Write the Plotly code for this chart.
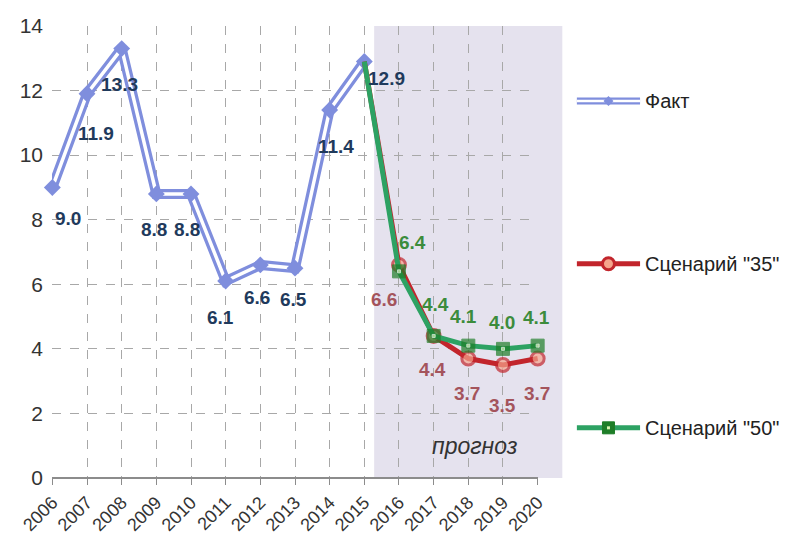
import plotly.graph_objects as go

# ---- data ----
years_fact = [2006, 2007, 2008, 2009, 2010, 2011, 2012, 2013, 2014, 2015]
fact = [9.0, 11.9, 13.3, 8.8, 8.8, 6.1, 6.6, 6.5, 11.4, 12.9]

years_fc = [2015, 2016, 2017, 2018, 2019, 2020]
scen35 = [12.9, 6.6, 4.4, 3.7, 3.5, 3.7]
scen50 = [12.9, 6.4, 4.4, 4.1, 4.0, 4.1]

year_ticks = list(range(2006, 2021))
y_ticks = [0, 2, 4, 6, 8, 10, 12, 14]

names = ["Факт", 'Сценарий "35"', 'Сценарий "50"']
forecast_label = "прогноз"
forecast_start = 2015.28
forecast_end = 2020.7

# ---- styling ----
FONT = "Liberation Sans, Arial, sans-serif"
C_FACT = "#7F8EDD"
C_FACT_TXT = "#1F3A5C"
C_35 = "#C2252C"
C_35_FILL = "#F5A48C"
C_35_TXT = "#A4545C"
C_50 = "#2DA263"
C_50_MK = "#1E7E28"
C_50_TXT = "#3C8C3C"
SHADE = "#E5E2EE"
LBL = 19

fig = go.Figure()

# Fact: double line (wide coloured line with a thin white core) + diamonds
fig.add_trace(go.Scatter(x=years_fact, y=fact, mode="lines",
                         line=dict(color=C_FACT, width=10), cliponaxis=False,
                         hoverinfo="skip", showlegend=False))
fig.add_trace(go.Scatter(x=years_fact, y=fact, mode="lines+markers",
                         line=dict(color="white", width=3.5),
                         marker=dict(symbol="diamond", size=13, color=C_FACT),
                         cliponaxis=False, name=names[0], showlegend=False))

# scenario markers start after the joining point
mk_sizes = [0] + [13] * (len(years_fc) - 1)
dot_sizes = [0] + [3] * (len(years_fc) - 1)

fig.add_trace(go.Scatter(x=years_fc, y=scen35, mode="lines+markers",
                         line=dict(color=C_35, width=5),
                         marker=dict(symbol="circle", size=mk_sizes, color=C_35_FILL,
                                     line=dict(color=C_35, width=3)),
                         cliponaxis=False, name=names[1], showlegend=False))
fig.add_trace(go.Scatter(x=years_fc, y=scen50, mode="lines+markers",
                         line=dict(color=C_50, width=5),
                         marker=dict(symbol="square", size=mk_sizes, color=C_50_MK,
                                     line=dict(color=C_50_MK, width=1)),
                         cliponaxis=False, name=names[2], showlegend=False))
fig.add_trace(go.Scatter(x=years_fc, y=scen50, mode="markers",
                         marker=dict(symbol="square", size=dot_sizes, color="#D8F5B0"),
                         cliponaxis=False, hoverinfo="skip", showlegend=False))

# ---- value labels ----
annotations = []
fact_offsets = [(16, -31), (9, -40), (-2, -36), (-2, -36), (-4, -36),
                (-5, -36), (-3, -33), (-2, -31), (6, -37), (22, -17)]
for x, v, (dx, dy) in zip(years_fact, fact, fact_offsets):
    annotations.append(dict(x=x, y=v, text=f"<b>{v:.1f}</b>", showarrow=False,
                            xshift=dx, yshift=dy,
                            font=dict(family=FONT, size=LBL, color=C_FACT_TXT)))

s50_offsets = [(14, 29), (2, 31), (-5, 29), (-1, 26), (-1, 28)]
for x, v, (dx, dy) in zip(years_fc[1:], scen50[1:], s50_offsets):
    annotations.append(dict(x=x, y=v, text=f"<b>{v:.1f}</b>", showarrow=False,
                            xshift=dx, yshift=dy,
                            font=dict(family=FONT, size=LBL, color=C_50_TXT)))

s35_offsets = [(-15, -35), (-1, -34), (-1, -35), (0, -40), (-1, -35)]
for x, v, (dx, dy) in zip(years_fc[1:], scen35[1:], s35_offsets):
    annotations.append(dict(x=x, y=v, text=f"<b>{v:.1f}</b>", showarrow=False,
                            xshift=dx, yshift=dy,
                            font=dict(family=FONT, size=LBL, color=C_35_TXT)))

annotations.append(dict(x=2018.2, y=1.0, text=f"<i>{forecast_label}</i>",
                        showarrow=False,
                        font=dict(family=FONT, size=23, color="#333333")))

# ---- shapes: forecast band ----
x_lo, x_hi = year_ticks[0], year_ticks[-1]
span = x_hi - x_lo
shapes = [
    dict(type="rect", xref="paper", yref="y",
         x0=(forecast_start - x_lo) / span, x1=(forecast_end - x_lo) / span,
         y0=0, y1=14, fillcolor=SHADE, line=dict(width=0), layer="below"),
]

# ---- manual legend ----
leg_x0, leg_x1 = 1.080, 1.210
leg_mid = (leg_x0 + leg_x1) / 2
leg_y = [0.834, 0.474, 0.111]

# Fact: double line
shapes.append(dict(type="line", xref="paper", yref="paper", x0=leg_x0, x1=leg_x1,
                   y0=leg_y[0], y1=leg_y[0], line=dict(color=C_FACT, width=7)))
shapes.append(dict(type="line", xref="paper", yref="paper", x0=leg_x0, x1=leg_x1,
                   y0=leg_y[0], y1=leg_y[0], line=dict(color="white", width=2.5)))
shapes.append(dict(type="path", xref="paper", yref="paper",
                   xsizemode="pixel", ysizemode="pixel",
                   xanchor=leg_mid, yanchor=leg_y[0],
                   path="M 0 5 L 5 0 L 0 -5 L -5 0 Z",
                   fillcolor=C_FACT, line=dict(width=0)))
# Scenario 35
shapes.append(dict(type="line", xref="paper", yref="paper", x0=leg_x0, x1=leg_x1,
                   y0=leg_y[1], y1=leg_y[1], line=dict(color=C_35, width=5)))
shapes.append(dict(type="circle", xref="paper", yref="paper",
                   xsizemode="pixel", ysizemode="pixel",
                   xanchor=leg_mid, yanchor=leg_y[1], x0=-6, x1=6, y0=-6, y1=6,
                   fillcolor=C_35_FILL, line=dict(color=C_35, width=3)))
# Scenario 50
shapes.append(dict(type="line", xref="paper", yref="paper", x0=leg_x0, x1=leg_x1,
                   y0=leg_y[2], y1=leg_y[2], line=dict(color=C_50, width=5)))
shapes.append(dict(type="rect", xref="paper", yref="paper",
                   xsizemode="pixel", ysizemode="pixel",
                   xanchor=leg_mid, yanchor=leg_y[2], x0=-6, x1=6, y0=-6, y1=6,
                   fillcolor=C_50_MK, line=dict(color=C_50_MK, width=1)))
shapes.append(dict(type="rect", xref="paper", yref="paper",
                   xsizemode="pixel", ysizemode="pixel",
                   xanchor=leg_mid, yanchor=leg_y[2], x0=-1.5, x1=1.5, y0=-1.5, y1=1.5,
                   fillcolor="#D8F5B0", line=dict(width=0)))

for name, yy in zip(names, leg_y):
    annotations.append(dict(xref="paper", yref="paper", x=leg_x1 + 0.006, y=yy,
                            text=name, showarrow=False, xanchor="left",
                            yanchor="middle",
                            font=dict(family=FONT, size=20, color="#222222")))

fig.update_layout(
    width=789, height=536,
    margin=dict(l=52, r=251, t=26, b=58),
    paper_bgcolor="white", plot_bgcolor="white",
    font=dict(family=FONT, size=17, color="#333333"),
    shapes=shapes, annotations=annotations,
    showlegend=False,
)
fig.update_xaxes(range=[x_lo - 0.01, x_hi + 0.01], tickvals=year_ticks,
                 ticktext=[str(y) for y in year_ticks], tickangle=-45,
                 tickfont=dict(family=FONT, size=18, color="#333333"),
                 showgrid=True, gridcolor="#A8A8A8", griddash="dash", gridwidth=1,
                 zeroline=False, showline=False, automargin=False,
                 ticks="outside", ticklen=6, tickcolor="#8C8C8C")
fig.update_yaxes(range=[0, 14], tickvals=y_ticks,
                 tickfont=dict(family=FONT, size=21, color="#333333"),
                 showgrid=True, gridcolor="#A8A8A8", griddash="dash", gridwidth=1,
                 zeroline=True, zerolinecolor="#8C8C8C", zerolinewidth=2,
                 showline=False, ticks="", ticklabelstandoff=8, automargin=False)

fig.write_html("out.html")
